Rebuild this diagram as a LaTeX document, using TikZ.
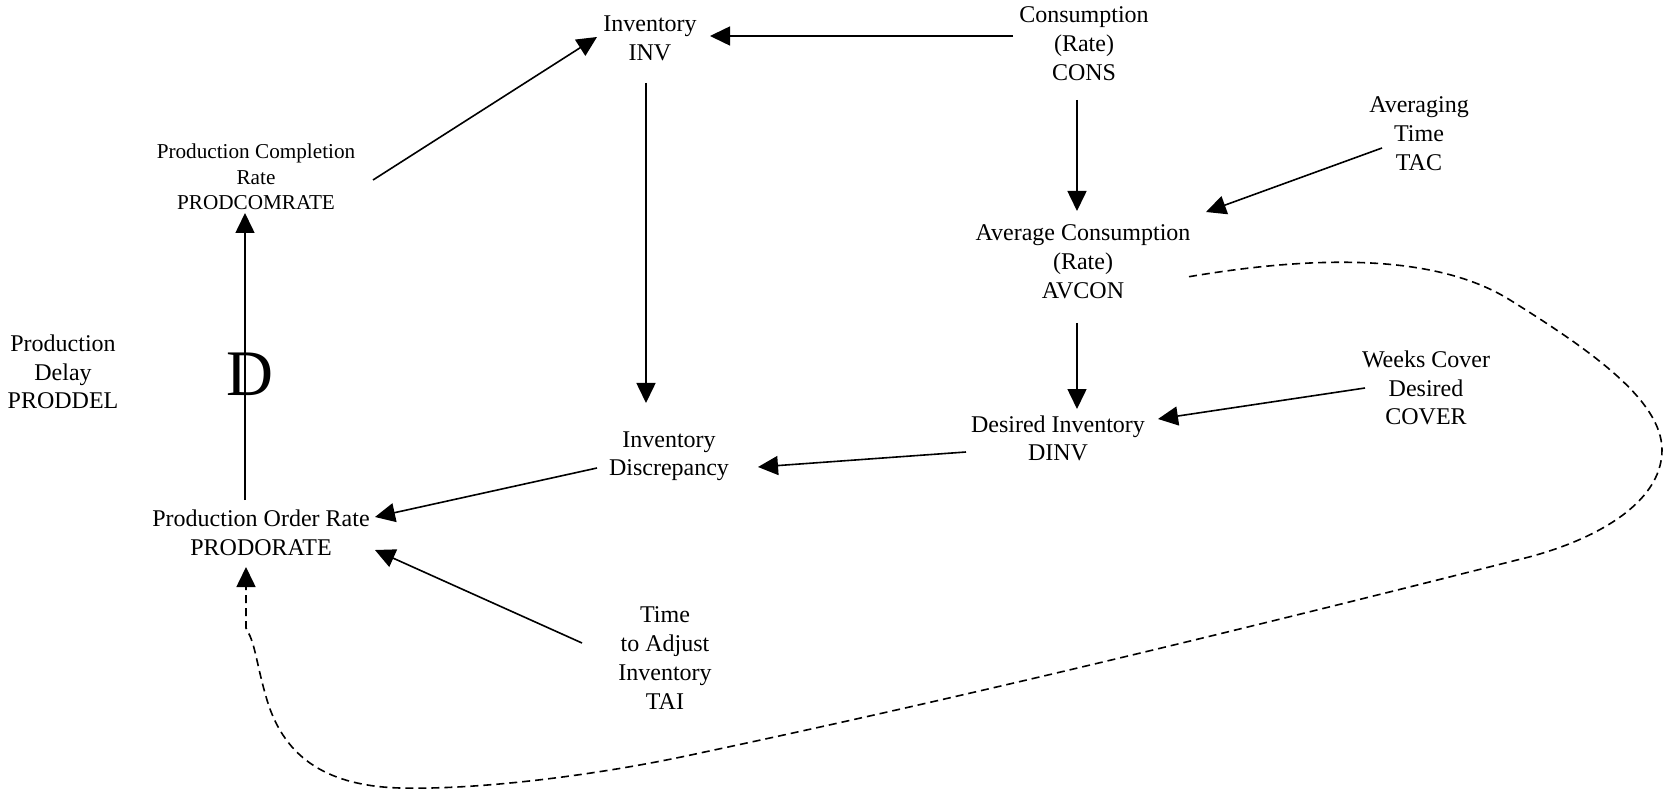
\documentclass[tikz,border=0pt]{standalone}
\usepackage{fontspec}
\setmainfont{Liberation Serif}
\usetikzlibrary{arrows.meta}

\tikzset{
  lbl/.style={align=center, inner sep=0pt,
    font=\fontsize{12}{14.4}\selectfont,
    execute at begin node=\strut, execute at end node=\strut},
  lblsmall/.style={lbl, font=\fontsize{10.6}{12.75}\selectfont},
  delaymark/.style={inner sep=0pt, font=\fontsize{32.5}{39}\selectfont},
  arr/.style={line width=0.8pt, -{Triangle[length=10pt,width=9.5pt]}},
  fb/.style={arr, dash pattern=on 4pt off 2.5pt}
}

\begin{document}
\begin{tikzpicture}[x=0.5pt, y=-0.5pt]
  \useasboundingbox (0,0) rectangle (1666,791);

  % stocks, rates and parameters
  \node[lbl] (inv)   at (650,42.5)  {Inventory\\INV};
  \node[lbl] (cons)  at (1084,48)   {Consumption\\(Rate)\\CONS};
  \node[lblsmall] (pcr) at (256,180.5) {Production Completion\\Rate\\PRODCOMRATE};
  \node[lbl] (avcon) at (1083,265.7) {Average Consumption\\(Rate)\\AVCON};
  \node[lbl] (tac)   at (1419,138)  {Averaging\\Time\\TAC};
  \node[lbl] (dinv)  at (1058,442.5) {Desired Inventory\\DINV};
  \node[lbl] (cover) at (1426,392)  {Weeks Cover\\Desired\\COVER};
  \node[lbl] (disc)  at (669,458)   {Inventory\\Discrepancy};
  \node[lbl] (por)   at (261,537)   {Production Order Rate\\PRODORATE};
  \node[lbl] (pdel)  at (63,376)    {Production\\Delay\\PRODDEL};
  \node[lbl] (tai)   at (665,662.5) {Time\\to Adjust\\Inventory\\TAI};
  \node[delaymark] (dmark) at (250,374.5) {D};

  % causal links
  \draw[arr] ([shift={(-71,-12)}]cons.center)  -- ([shift={(60,-6.5)}]inv.center);
  \draw[arr] ([shift={(117,-0.5)}]pcr.center)  -- ([shift={(-53,-5.5)}]inv.center);
  \draw[arr] ([shift={(-4,40.5)}]inv.center)   -- ([shift={(-23,-55)}]disc.center);
  \draw[arr] ([shift={(-7,52)}]cons.center)    -- ([shift={(-6,-54.7)}]avcon.center);
  \draw[arr] ([shift={(-37,10)}]tac.center)    -- ([shift={(123,-53.7)}]avcon.center);
  \draw[arr] ([shift={(-6,57.3)}]avcon.center) -- ([shift={(19,-33.5)}]dinv.center);
  \draw[arr] ([shift={(-61,-4)}]cover.center)  -- ([shift={(100,-23.5)}]dinv.center);
  \draw[arr] ([shift={(-92,9.5)}]dinv.center)  -- ([shift={(89,9)}]disc.center);
  \draw[arr] ([shift={(-72,10)}]disc.center)   -- ([shift={(114,-20)}]por.center);
  \draw[arr] ([shift={(-83,-19.5)}]tai.center) -- ([shift={(114,13)}]por.center);
  \draw[arr] ([shift={(-16,-37)}]por.center)   -- ([shift={(-11,32.5)}]pcr.center);

  % feedback from average consumption to the order rate
  \draw[fb] ([shift={(106,11)}]avcon.center)
      .. controls (1300,258) and (1430,250) .. (1510,300)
      .. controls (1590,350) and (1662,400) .. (1662,450)
      .. controls (1662,505) and (1590,543) .. (1517,560)
      .. controls (1200,640) and (950,700) .. (700,753)
      .. controls (600,775) and (480,790) .. (400,788)
      .. controls (330,786) and (285,760) .. (267,700)
      .. controls (258,670) and (256,650) .. (250,636)
      -- (246,628) -- ([shift={(-15,30)}]por.center);
\end{tikzpicture}
\end{document}
